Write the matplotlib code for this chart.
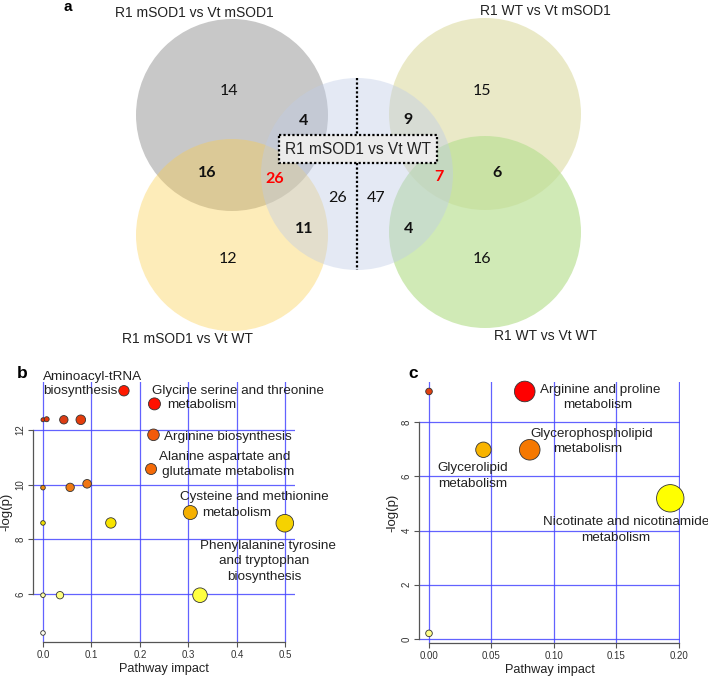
import matplotlib
matplotlib.use('Agg')
import matplotlib.pyplot as plt
from matplotlib.patches import Circle, Rectangle

plt.rcParams['font.family'] = ['Liberation Sans', 'DejaVu Sans']

W, H, DPI = 708, 680, 100

#-------------------------------------------------------------------------------
#DATA

#panel a: four comparisons around a central one, counts per Venn region
venn_sets = ['R1 mSOD1 vs Vt mSOD1', 'R1 WT vs Vt mSOD1',
             'R1 mSOD1 vs Vt WT', 'R1 WT vs Vt WT']
centre_set = 'R1 mSOD1 vs Vt WT'
venn_counts = [14, 4, 16, 26, 26, 47, 9, 7, 11, 4, 12, 15, 6, 16]
venn_bold = [0, 1, 1, 1, 0, 0, 1, 1, 1, 1, 0, 0, 1, 0]
venn_red = [0, 0, 0, 1, 0, 0, 0, 1, 0, 0, 0, 0, 0, 0]

#panel b: R1 mSOD1 vs Vt WT pathway analysis
b_impact = [0.167, 0.230, 0.000, 0.0076, 0.043, 0.078, 0.228, 0.223, 0.000,
            0.056, 0.091, 0.304, 0.000, 0.140, 0.499, 0.000, 0.035, 0.324,
            0.000]
b_logp = [13.43, 12.95, 12.37, 12.39, 12.37, 12.37, 11.82, 10.57, 9.89,
          9.90, 10.03, 8.98, 8.60, 8.60, 8.59, 5.96, 5.96, 5.96, 4.58]
b_radius = [5.2, 6.0, 2.0, 2.5, 4.2, 4.8, 5.8, 5.5, 2.3, 4.2, 4.3, 7.0, 2.3,
            5.2, 8.8, 2.3, 3.7, 7.3, 2.3]
b_colors = ['#ff1a00', '#ff1000', '#e8380c', '#e8380c', '#dc3c14', '#e43c0c',
            '#f25a0a', '#f46a08', '#f08a10', '#f07a14', '#f07614', '#f5b000',
            '#f0e000', '#f8e400', '#f5d200', '#ffffa8', '#ffff80', '#ffff40',
            '#fffff0']

#panel c: R1 WT vs Vt WT pathway analysis
c_impact = [0.000, 0.0767, 0.0436, 0.0807, 0.1933, 0.000]
c_logp = [9.13, 9.13, 6.98, 6.98, 5.19, 0.21]
c_radius = [3.3, 10.3, 7.7, 10.3, 13.7, 3.3]
c_colors = ['#e04010', '#ff0000', '#f8b400', '#f57800', '#ffff00', '#ffff88']

b_xticks = [0.0, 0.1, 0.2, 0.3, 0.4, 0.5]
b_yticks = [6, 8, 10, 12]
c_xticks = [0.00, 0.05, 0.10, 0.15, 0.20]
c_yticks = [0, 2, 4, 6, 8]

#-------------------------------------------------------------------------------
#LAYOUT (pixel positions of annotations)

def fx(x):
    return x / float(W)

def fy(y):
    return 1 - y / float(H)

#circle centres in pixels: gray, yellow, olive, green, then the central one
circ_xy = [(232, 115), (232, 235), (485, 114), (485, 232), (357, 174)]
circ_r = 96
circ_fc = [(0.784, 0.784, 0.784, 1.0), (0.988, 0.804, 0.286, 0.38),
           (0.855, 0.847, 0.60, 0.55), (0.73, 0.88, 0.58, 0.68),
           (0.75, 0.80, 0.905, 0.42)]
set_label_xy = [(194, 13), (545, 11), (187, 339), (546, 336)]
count_xy = [(229, 91), (304, 121), (207, 173), (275, 179), (338, 198),
            (376, 198), (408, 120), (439, 177), (304, 229), (409, 229),
            (228, 259), (482, 91), (497, 173), (482, 259)]

b_label_lines = [('Aminoacyl-tRNA', 42.7, 376.7), ('biosynthesis', 42.7, 391),
                 ('Glycine serine and threonine', 152.3, 390.7),
                 ('metabolism', 166.7, 405.3),
                 ('Arginine biosynthesis', 164.3, 437.3),
                 ('Alanine aspartate and', 159, 457),
                 ('glutamate metabolism', 162.3, 472.3),
                 ('Cysteine and methionine', 180, 497.3),
                 ('metabolism', 201.7, 512.7),
                 ('Phenylalanine tyrosine', 200.3, 546),
                 ('and tryptophan', 219.3, 561),
                 ('biosynthesis', 227.3, 576.7)]
c_label_lines = [('Arginine and proline', 540, 390), ('metabolism', 562.7, 405),
                 ('Glycerophospholipid', 530.7, 434.3),
                 ('metabolism', 552.7, 449),
                 ('Glycerolipid', 437.7, 468.3), ('metabolism', 437.7, 484),
                 ('Nicotinate and nicotinamide', 542.7, 522.3),
                 ('metabolism', 581, 537.7)]

fig = plt.figure(figsize=(W / float(DPI), H / float(DPI)), dpi=DPI)

#-------------------------------------------------------------------------------
#PANEL A: Venn diagram drawn in pixel space

ax_a = fig.add_axes([0, 0, 1, 1])
ax_a.set_xlim(0, W)
ax_a.set_ylim(H, 0)
ax_a.axis('off')

for (cx, cy), fc in zip(circ_xy, circ_fc):
    ax_a.add_patch(Circle((cx, cy), circ_r, facecolor=fc, edgecolor='none'))

#dotted divider and boxed central label
ax_a.plot([357, 357], [78, 135], color='black', ls=(0, (1, 1)), lw=1.6)
ax_a.plot([357, 357], [163, 270], color='black', ls=(0, (1, 1)), lw=1.6)
ax_a.add_patch(Rectangle((279, 135), 158, 28, facecolor='#ececec',
                         edgecolor='black', ls=(0, (1, 1)), lw=1.6))
ax_a.text(358, 149, centre_set, ha='center', va='center', fontsize=11.2,
          color='#222222')

for name, (x, y) in zip(venn_sets, set_label_xy):
    ax_a.text(x, y, name, ha='center', va='center', fontsize=10,
              color='#222222')

for n, (x, y), b, r in zip(venn_counts, count_xy, venn_bold, venn_red):
    ax_a.text(x, y, str(n), ha='center', va='center', fontsize=11.5,
              family=['Lato', 'DejaVu Sans'],
              fontweight='bold' if b else 'normal',
              color='#ff0000' if r else '#111111')

#-------------------------------------------------------------------------------
#PANELS B AND C: pathway impact bubble plots

def bubble_panel(rect, impact, logp, radius, colors, xlim, ylim, xticks,
                 yticks, xfmt):
    """R-style bubble plot with blue grid and L-shaped axes"""
    ax = fig.add_axes(rect)
    ax.set_xlim(xlim)
    ax.set_ylim(ylim)
    ax.set_xticks(xticks)
    ax.set_xticklabels([xfmt % t for t in xticks])
    ax.set_yticks(yticks)
    ax.set_yticklabels(['%d' % t for t in yticks])
    for s in ['top', 'right']:
        ax.spines[s].set_visible(False)
    ax.spines['left'].set_bounds(yticks[0], yticks[-1])
    ax.spines['bottom'].set_bounds(xticks[0], xticks[-1])
    for s in ['left', 'bottom']:
        ax.spines[s].set_color('#555555')
        ax.spines[s].set_linewidth(0.9)
    ax.tick_params(direction='out', length=3.6, width=0.8, color='#555555',
                   labelsize=7, labelcolor='#333333', pad=2)
    ax.tick_params(axis='y', labelrotation=90)
    for tl in ax.get_yticklabels():
        tl.set_va('center')
    ax.grid(True, color='#4646ff', lw=0.9, alpha=0.85)
    ax.set_axisbelow(True)
    ax.patch.set_alpha(0)
    sizes = [(2 * r * 72.0 / DPI) ** 2 for r in radius]
    ax.scatter(impact, logp, s=sizes, c=colors, edgecolors='#333333',
               linewidths=0.6, zorder=3, clip_on=False)
    ax.set_xlabel('Pathway impact', fontsize=9.2, labelpad=2, color='#222222')
    ax.set_ylabel('-log(p)', fontsize=9.5, labelpad=2, color='#222222')
    return ax

ax_b = bubble_panel([fx(33.3), fy(642), (295 - 33.3) / W, 260.0 / H],
                    b_impact, b_logp, b_radius, b_colors, (-0.02, 0.52),
                    (4.25, 13.75), b_xticks, b_yticks, '%.1f')
ax_c = bubble_panel([fx(419.4), fy(643.3), (680 - 419.4) / W, 261.6 / H],
                    c_impact, c_logp, c_radius, c_colors, (-0.0077, 0.2011),
                    (-0.157, 9.49), c_xticks, c_yticks, '%.2f')

for txt, x, y in b_label_lines + c_label_lines:
    fig.text(fx(x), fy(y), txt, ha='left', va='center', fontsize=9.7,
             color='#222222')

#panel letters
fig.text(fx(68), fy(7), 'a', ha='center', va='center', fontsize=11,
         fontweight='bold')
fig.text(fx(21.7), fy(373), 'b', ha='center', va='center', fontsize=12.5,
         fontweight='bold')
fig.text(fx(413), fy(373), 'c', ha='center', va='center', fontsize=12.5,
         fontweight='bold')

plt.savefig('out.png', dpi=DPI)
